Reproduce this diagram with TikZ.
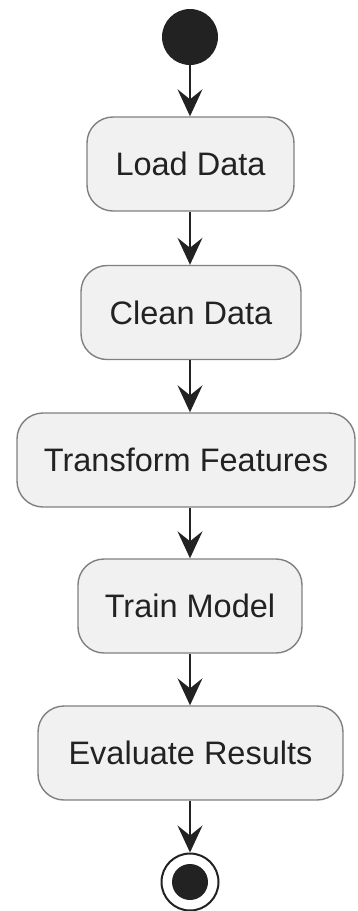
\documentclass[tikz,border=0pt]{standalone}
\usepackage{fontspec}
\setmainfont{Liberation Sans}
\usetikzlibrary{arrows.meta}
\definecolor{boxfill}{HTML}{F1F1F1}
\definecolor{boxline}{HTML}{808080}
\definecolor{ink}{HTML}{222222}
\begin{document}
\begin{tikzpicture}[x=1pt,y=-1pt,
  action/.style={draw=boxline, line width=1.4pt, fill=boxfill, rounded corners=26pt,
    minimum height=94pt, inner sep=0pt, text=ink,
    font=\fontsize{32.5pt}{36pt}\selectfont},
  flow/.style={draw=ink, line width=2pt,
    -{Stealth[length=27pt, width=25pt, inset=10pt]}}]
  \useasboundingbox (0,0) rectangle (357,911);

  % start and end markers
  \node[circle, fill=ink, minimum size=56pt, inner sep=0pt] (start) at (190,37) {};
  \node[circle, draw=ink, line width=2pt, fill=white, minimum size=57pt, inner sep=0pt] (stop) at (190,882) {};
  \node[circle, fill=ink, minimum size=36pt, inner sep=0pt] (stopdot) at (190,882) {};

  % actions
  \node[action, minimum width=207pt] (load) at (190.5,164) {Load Data};
  \node[action, minimum width=220pt] (clean) at (191,312.5) {Clean Data};
  \node[action, minimum width=338pt] (transform) at (186,460) {Transform Features};
  \node[action, minimum width=224pt] (train) at (190,606) {Train Model};
  \node[action, minimum width=305pt] (eval) at (190.5,753) {Evaluate Results};

  % control flow
  \draw[flow] (start.south) -- (start.south |- load.north);
  \draw[flow] (start.south |- load.south) -- (start.south |- clean.north);
  \draw[flow] (start.south |- clean.south) -- (start.south |- transform.north);
  \draw[flow] (start.south |- transform.south) -- (start.south |- train.north);
  \draw[flow] (start.south |- train.south) -- (start.south |- eval.north);
  \draw[flow] (start.south |- eval.south) -- (stop.north);
\end{tikzpicture}
\end{document}
